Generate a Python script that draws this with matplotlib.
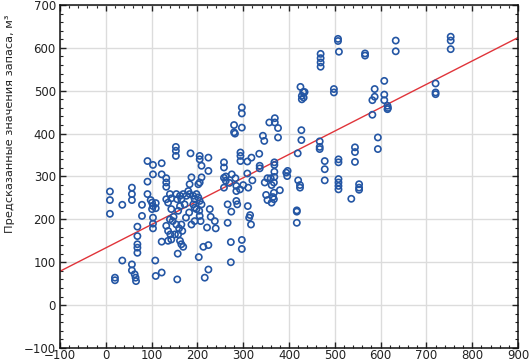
import numpy as np
import matplotlib
matplotlib.use("Agg")
import matplotlib.pyplot as plt
from matplotlib.ticker import MultipleLocator

obs = [
    153, 153, 153, 185, 91, 103, 122, 103, 122, 132, 132, 132, 91, 57, 57, 57,
    9, 9, 9, 36, 79, 79, 91, 98, 101, 103, 101, 103, 103, 103, 69, 69, 69, 69,
    69, 36, 57, 57, 63, 65, 66, 20, 20, 108, 122, 109, 122, 156, 203, 213, 224,
    157, 216, 224,
    132, 136, 140, 143, 154, 156, 162, 165, 169, 176, 180, 183, 191, 194, 198,
    202, 205, 209, 191, 194, 198, 204, 205, 207, 162, 158, 143, 140, 146, 154,
    160, 165, 167, 132, 136, 141, 143, 151, 158, 162, 165, 169, 136, 227, 229,
    238, 240, 221, 187, 194, 209, 205, 202, 187, 183, 205, 205, 224, 224, 209,
    172, 182, 175, 148, 258, 258, 258, 258, 109, 109,
    297, 297, 280, 280, 282, 297, 357, 369, 369, 376, 376, 343, 346, 427, 427,
    419, 467, 467, 467, 478, 478, 478, 508, 508, 508, 508, 508, 508,
    294, 294, 294, 309, 318, 335, 336, 336, 368, 368, 368, 394, 397, 396,
    368, 360, 353, 347, 362, 367, 380, 367, 365, 367, 350, 353, 362,
    420, 424, 424, 417, 417, 417, 311, 310, 315, 313, 317,
    285, 285, 285, 287, 274, 266, 266, 262, 262, 270, 275, 283, 293, 300,
    309, 320, 273, 297, 297, 273,
    566, 566, 633, 633, 753, 753, 753, 608, 587, 587, 582, 608, 608, 615, 616,
    615, 582, 720, 720, 720, 594, 544, 594, 544, 544, 553, 553, 553, 536,
    507, 507, 509, 469, 469, 469, 469, 425, 431, 434, 498, 498, 428, 428, 432,
]
pred = [
    369, 360, 348, 354, 336, 327, 331, 305, 305, 296, 286, 276, 288, 274, 259, 245,
    265, 245, 213, 234, 234, 208, 259, 245, 239, 231, 224, 204, 190, 179, 183, 161, 142, 134,
    122, 104, 95, 81, 72, 64, 56, 64, 58, 104, 148, 68, 76, 60, 112, 136, 140,
    120, 64, 83,
    247, 239, 259, 249, 259, 247, 255, 247, 259, 255, 266, 259, 255, 247, 259,
    251, 243, 235, 235, 227, 224, 220, 208, 196, 231, 220, 224, 200, 196, 188,
    179, 188, 173, 185, 173, 165, 153, 165, 165, 150, 142, 136, 150, 224, 206,
    196, 179, 181, 188, 196, 298, 286, 282, 298, 282, 340, 348, 344, 313, 325,
    235, 216, 204, 206, 333, 321, 297, 274, 238, 226,
    461, 447, 420, 403, 400, 414, 426, 436, 426, 413, 391, 395, 383, 408, 385,
    354, 382, 369, 364, 336, 317, 291, 340, 333, 294, 286, 278, 270,
    356, 348, 336, 335, 344, 353, 325, 319, 333, 327, 311, 309, 313, 301,
    299, 296, 296, 286, 280, 286, 268, 262, 252, 247, 257, 245, 239,
    291, 280, 274, 221, 218, 192, 274, 231, 210, 204, 188,
    278, 266, 243, 235, 218, 235, 192, 300, 290, 285, 305, 296, 270, 280,
    307, 291, 147, 152, 131, 100,
    587, 582, 617, 592, 626, 617, 597, 523, 504, 486, 478, 491, 478, 465, 460,
    457, 444, 517, 496, 492, 391, 368, 364, 357, 334, 282, 274, 269, 248,
    621, 616, 591, 586, 576, 566, 556, 509, 497, 497, 504, 496, 488, 480, 484,
]

# fitted line (intercept, slope)
fit_b, fit_k = 133.5, 0.545

x_ticks = list(range(-100, 901, 100))
y_ticks = list(range(-100, 701, 100))

plt.rcParams['font.family'] = 'DejaVu Sans'
fig = plt.figure(figsize=(5.3, 3.62), dpi=100)
ax = fig.add_axes([0.1132, 0.0387, 0.8642, 0.9475])

ax.grid(True, color='#dcdcdc', linewidth=1.0, zorder=0)
ax.set_axisbelow(True)

xs = np.array([-100, 900])
ax.plot(xs, fit_b + fit_k * xs, color='#e0343a', linewidth=1.0, zorder=2)

ax.scatter(obs, pred, s=20, facecolors='none', edgecolors='#2456a4',
           linewidths=1.2, zorder=3)

ax.set_xlim(-100, 900)
ax.set_ylim(-100, 700)
ax.set_xticks(x_ticks)
ax.set_yticks(y_ticks)
ax.xaxis.set_minor_locator(MultipleLocator(20))
ax.yaxis.set_minor_locator(MultipleLocator(20))
ax.tick_params(which='both', direction='in', top=True, right=True,
               colors='#222222', labelsize=8.5)
ax.tick_params(axis='x', pad=1)
ax.tick_params(axis='y', pad=3)
ax.tick_params(which='major', length=4, width=1)
ax.tick_params(which='minor', length=2.5, width=0.8)
for sp in ax.spines.values():
    sp.set_color('#111111')
    sp.set_linewidth(1.1)

ax.set_ylabel('Предсказанные значения запаса, м³', fontsize=8.2, color='#222222')
ax.yaxis.set_label_coords(-0.098, 0.655)

fig.savefig('out.png', dpi=100)
